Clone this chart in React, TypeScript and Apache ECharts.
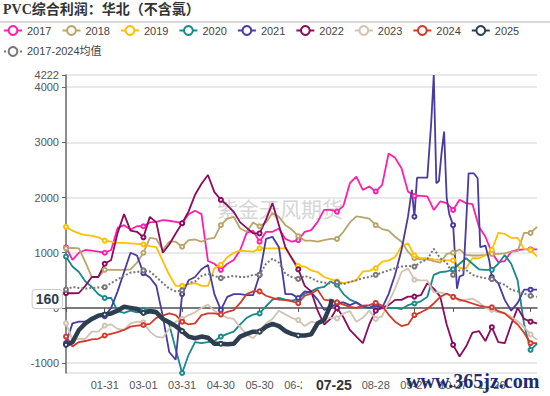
import React, { useEffect, useRef } from "react";
import * as echarts from "echarts";

// ---------- categories (leap-year calendar, MM-DD) ----------
const monthDays = [31, 29, 31, 30, 31, 30, 31, 31, 30, 31, 30, 31];
const categories: string[] = [];
monthDays.forEach((n, m) => {
  for (let d = 1; d <= n; d++) {
    categories.push(String(m + 1).padStart(2, "0") + "-" + String(d).padStart(2, "0"));
  }
});

// sample days (category index) used by most series
const days = [
  0, 5, 10, 15, 20, 25, 30, 35, 40, 45, 50, 55, 60, 65, 70, 75, 80, 85, 90, 95,
  100, 105, 110, 115, 120, 125, 130, 135, 140, 145, 150, 155, 160, 165, 170, 175, 180, 185, 190, 195,
  200, 205, 210, 215, 220, 225, 230, 235, 240, 245, 250, 255, 260, 265, 270, 275, 280, 285, 290, 295,
  300, 305, 310, 315, 320, 325, 330, 335, 340, 345, 350, 355, 360, 365,
];

const days2021 = [
  0, 5, 10, 15, 20, 25, 30, 35, 40, 45, 50, 55, 60, 65, 70, 75, 80, 85, 90, 95,
  100, 105, 110, 115, 120, 125, 130, 135, 140, 145, 150, 155, 160, 165, 170, 175, 180, 185, 190, 195,
  200, 205, 210, 215, 220, 225, 230, 235, 240, 245, 250, 255, 260, 265, 268, 270, 272, 280, 283, 285,
  287, 289, 291, 293, 295, 297, 300, 303, 305, 308, 310, 312, 316, 319, 321, 325, 328, 330, 335, 340,
  345, 350, 355, 360, 365,
];

const days2025 = [
  0, 5, 10, 15, 20, 25, 30, 35, 40, 45, 50, 55, 60, 65, 70, 75, 80, 85, 90, 95,
  100, 105, 110, 115, 120, 125, 130, 135, 140, 145, 150, 155, 160, 165, 170, 175, 180, 185, 190, 195,
  200, 205, 206,
];

const v2017 = [
  1100, 870, 1000, 1050, 1040, 1020, 1000, 1050, 1450, 1500,
  1420, 1480, 1480, 1550, 1560, 1590, 1580, 1560, 1535, 1700,
  1760, 1700, 850, 800, 690, 800, 870, 1050, 1360, 1400,
  1200, 1380, 1380, 1440, 1250, 1200, 1230, 1380, 1410, 1560,
  1776, 1776, 1745, 1850, 2260, 2380, 2140, 2200, 2110, 2230,
  2800, 2720, 2530, 2110, 2030, 2030, 2020, 1776, 1930, 1900,
  1776, 1960, 1900, 1880, 1470, 1290, 1000, 830, 850, 1020,
  1050, 1060, 1060, 1060,
];

const v2018 = [
  1080, 1090, 1080, 830, 560, 560, 690, 690, 690, 690,
  700, 820, 1000, 1270, 1250, 1050, 1200, 1200, 1110, 1230,
  1240, 1200, 1250, 1270, 1500, 1620, 1650, 1440, 1380, 1550,
  1480, 1550, 1720, 1650, 1500, 1420, 1300, 1220, 1220, 1200,
  1230, 1250, 1250, 1380, 1550, 1660, 1640, 1620, 1500, 1430,
  1400, 1290, 1200, 1020, 900, 880, 880, 850, 820, 980,
  1000, 1060, 960, 950, 950, 960, 980, 980, 990, 1020,
  1030, 1360, 1360, 1470,
];

const v2019 = [
  1470, 1400, 1350, 1320, 1310, 1280, 1220, 1200, 1180, 1180,
  1170, 1160, 1150, 1120, 1100, 850, 600, 400, 400, 430,
  450, 400, 400, 720, 780, 920, 1000, 1040, 1030, 1020,
  1080, 1080, 1080, 1080, 1080, 900, 760, 750, 680, 650,
  560, 520, 480, 450, 470, 500, 660, 670, 720, 840,
  860, 920, 1120, 1170, 950, 900, 900, 880, 870, 860,
  860, 720, 720, 900, 900, 950, 1050, 1360, 1340, 1270,
  1270, 1070, 1050, 930,
];

const v2020 = [
  930, 750, 650, 480, 380, 250, 180, 180, -60, -90,
  -50, -80, -40, -30, -50, -200, -300, -750, -1180, -850,
  -620, -640, -620, -600, -520, -470, -430, -300, -180, -120,
  -100, 30, 150, 180, 150, 130, 160, 260, 300, 360,
  380, 480, 420, 250, 150, 100, 20, 0, 0, -10,
  0, 0, -20, 50, 80, 120, 200, 600, 650, 660,
  700, 800, 900, 800, 700, 690, 690, 800, 960, 800,
  500, -300, -760, -650,
];

const v2021 = [
  -640, -280, -250, -250, -200, -150, -150, 0, 300, 650,
  1000, 950, 630, 550, 400, -150, -800, -940, 250, 500,
  560, 700, 780, 250, -36, 200, 250, 250, 230, 230,
  600, 1250, 1290, 1100, 250, 250, 180, 300, 280, 150,
  -36, 0, 90, 100, 50, 100, 30, 0, 60, 0,
  250, 600, 1050, 1650, 2140, 1655, 2360, 2360, 3350, 4222,
  2260, 2300, 2800, 3195, 2000, 1700, 1500, 350, 570, 600,
  1500, 2440, 2440, 2350, 1100, 1130, 860, 560, 450, 145,
  -50, 90, 330, 330, 330,
];

const v2022 = [
  266, 266, 270, 400, 560, 560, 800, 870, 1360, 1700,
  1400, 1380, 1280, 1650, 1550, 1000, 1150, 1350, 1535, 1750,
  2050, 2250, 2410, 2100, 1960, 1860, 1740, 1550, 1450, 1350,
  1350, 1600, 1900, 1500, 1100, 900, 700, 400, 300, -50,
  -300, -200, 0, -170, -400, -520, -640, -300, -50, 0,
  50, 145, 145, 205, 205, 230, 450, 350, 205, -300,
  -670, -880, -700, -450, -420, -600, -350, -620, -640, -300,
  0, -200, -250, -280,
];

const v2023 = [
  -280, -580, -560, -560, -430, -430, -320, -300, -380, -400,
  -280, -250, -260, -430, -520, -540, -380, -250, -200, -130,
  -80, 0, 60, -50, -120, -180, -200, -350, -480, -550,
  -430, -280, -200, -50, -120, -180, -220, -330, -250, -280,
  -200, -180, -190, -100, -60, -250, -180, -50, -200, -150,
  100, 350, 650, 720, 510, 500, 500, 280, 280, 250,
  200, 120, 150, 170, 100, 0, -36, -80, -100, -160,
  -240, -350, -480, -580,
];

const v2024 = [
  -520, -700, -620, -600, -570, -560, -500, -470, -440, -400,
  -340, -320, -310, -290, -180, -140, -100, -130, -250, -300,
  -280, -130, -100, -100, -120, -70, -40, 90, 250, 300,
  300, 220, 180, 150, 140, 120, 85, 220, 260, 330,
  150, 130, 100, 60, 20, 0, 40, 50, 90, 40,
  -120, -250, -330, -300, -130, -80, -20, 80, 200, 260,
  200, 150, 120, 80, 40, 20, 10, -60, -100, -200,
  -300, -450, -640, -640,
];

const v2025 = [
  -670, -620, -400, -280, -200, -140, -120, -100, -50, 20,
  0, -20, -90, -60, -80, -200, -260, -330, -420, -520,
  -550, -520, -540, -650, -650, -660, -650, -520, -470, -430,
  -430, -340, -290, -330, -420, -470, -500, -500, -480, -280,
  -220, 50, 160,
];

const vAvg = [
  330, 380, 360, 350, 360, 370, 375, 450, 520, 580,
  640, 650, 680, 660, 560, 450, 350, 300, 320, 450,
  480, 580, 620, 580, 540, 560, 580, 560, 560, 600,
  600, 800, 890, 820, 620, 560, 525, 580, 540, 480,
  460, 440, 465, 430, 470, 500, 540, 560, 600, 640,
  680, 720, 750, 760, 750, 830, 880, 1070, 900, 820,
  600, 680, 690, 600, 560, 540, 520, 460, 420, 330,
  300, 260, 220, 200,
];

const latestDay = 206; // 07-25
const latestValue = 160;

const seriesDefs = [
  { name: "2017", color: "#ff1fa8", d: days, v: v2017, width: 1.8 },
  { name: "2018", color: "#b8a56a", d: days, v: v2018, width: 1.8 },
  { name: "2019", color: "#ffc000", d: days, v: v2019, width: 1.8 },
  { name: "2020", color: "#178a8a", d: days, v: v2020, width: 1.8 },
  { name: "2021", color: "#4a3aa2", d: days2021, v: v2021, width: 1.8 },
  { name: "2022", color: "#8a0c5c", d: days, v: v2022, width: 1.8 },
  { name: "2023", color: "#d2c3b3", d: days, v: v2023, width: 1.8 },
  { name: "2024", color: "#d23a2c", d: days, v: v2024, width: 1.8 },
  { name: "2025", color: "#2c3e50", d: days2025, v: v2025, width: 4.5 },
  { name: "2017-2024均值", color: "#777777", d: days, v: vAvg, width: 2, dotted: true },
];

const FONT = '"Liberation Sans", Arial, "Noto Sans CJK SC", sans-serif';

export default function App() {
  const ref = useRef<HTMLDivElement>(null);

  useEffect(() => {
    document.body.style.margin = "0";
    if (!ref.current) return;
    const chart = echarts.init(ref.current, undefined, { renderer: "svg" });

    const series = seriesDefs.map((s) => ({
      type: "line",
      name: s.name,
      xAxisIndex: 0,
      yAxisIndex: 0,
      data: s.d.map((day, k) => ({
        value: [day, s.v[k]],
        symbol: day % 30 === 0 ? "emptyCircle" : "none",
      })),
      symbol: "emptyCircle",
      symbolSize: 4,
      showAllSymbol: true,
      lineStyle: { color: s.color, width: s.width, type: s.dotted ? "dotted" : "solid" },
      itemStyle: { color: s.color, borderWidth: 1.2 },
      emphasis: { disabled: true },
    }));

    // labels every 30 days; 07-29 sits under the 07-25 pointer label
    const labelInterval = (i: number) => i > 0 && i % 30 === 0 && i <= 330 && i !== 210;

    chart.setOption({
      animation: false,
      textStyle: { fontFamily: FONT },
      title: {
        text: "PVC综合利润：华北（不含氯）",
        left: 3,
        top: 2,
        padding: 0,
        textStyle: {
          fontSize: 14,
          fontWeight: "bold",
          color: "#333",
          fontFamily: '"Liberation Serif", "Noto Sans CJK SC", serif',
        },
      },
      legend: {
        left: 3,
        top: 25,
        width: 545,
        itemWidth: 18,
        itemHeight: 11,
        itemGap: 10,
        padding: 0,
        textStyle: { fontSize: 11, color: "#444", fontFamily: FONT },
        data: seriesDefs.map((s) => s.name),
      },
      grid: { left: 66, right: 13, top: 75, bottom: 23, containLabel: false },
      axisPointer: { triggerOn: "none" },
      xAxis: [
        {
          type: "category",
          data: categories,
          boundaryGap: false,
          axisLine: { show: false, onZero: false },
          axisTick: { show: false },
          splitLine: { show: false },
          axisLabel: { interval: labelInterval, color: "#555", fontSize: 11, margin: 6, fontFamily: FONT },
          axisPointer: {
            show: true,
            type: "line",
            value: latestDay,
            status: "show",
            snap: false,
            triggerTooltip: false,
            lineStyle: { opacity: 0, width: 0 },
            label: {
              show: true,
              fontWeight: "bold",
              fontSize: 14,
              color: "#333",
              backgroundColor: "#fff",
              padding: [2, 10, 2, 14],
              margin: 3,
              fontFamily: FONT,
            },
          },
        },
        {
          type: "category",
          data: categories,
          boundaryGap: false,
          position: "bottom",
          axisLine: { show: true, onZero: true, lineStyle: { color: "#555", width: 1.5 } },
          axisTick: { show: true, interval: (i: number) => i % 30 === 0, length: 4, lineStyle: { color: "#555" } },
          axisLabel: { show: false },
          splitLine: { show: false },
        },
      ],
      yAxis: {
        type: "value",
        min: -1180,
        max: 4222,
        axisLine: { show: true, lineStyle: { color: "#666", width: 1.5 } },
        axisTick: { show: true, length: 4, lineStyle: { color: "#666" } },
        splitLine: { lineStyle: { color: "#e2e2e2", width: 1.5 } },
        axisLabel: {
          color: "#555",
          fontSize: 11,
          margin: 7,
          showMinLabel: false,
          showMaxLabel: true,
          fontFamily: FONT,
          formatter: (v: number) => String(v),
        },
        axisPointer: {
          show: true,
          value: latestValue,
          status: "show",
          snap: false,
          triggerTooltip: false,
          lineStyle: { opacity: 0, width: 0 },
          label: {
            show: true,
            fontWeight: "bold",
            fontSize: 14,
            color: "#2c3e50",
            backgroundColor: "#fff",
            borderColor: "#ccc",
            borderWidth: 1,
            borderRadius: 3,
            padding: [2, 3, 2, 3],
            margin: 4,
            fontFamily: FONT,
            formatter: (p: any) => String(Math.round(Number(p.value))),
          },
        },
      },
      graphic: [
        {
          type: "line",
          shape: { x1: 0, y1: 22, x2: 550, y2: 22 },
          style: { stroke: "#cccccc", lineWidth: 1.5 },
          silent: true,
        },
        {
          type: "text",
          x: 217,
          y: 197,
          z: 0,
          silent: true,
          style: {
            text: "紫金天风期货",
            fontSize: 21,
            fill: "#d6d6d6",
            fontFamily: '"Noto Sans CJK SC", sans-serif',
          },
        },
        {
          type: "text",
          x: 406,
          y: 371,
          z: 100,
          silent: true,
          style: {
            text: "www.365jz.com",
            fontSize: 20,
            fontWeight: "bold",
            fill: "#1c2c6e",
            fontFamily: '"Liberation Serif", serif',
          },
        },
      ],
      series,
    });

    return () => chart.dispose();
  }, []);

  return <div ref={ref} style={{ width: 550, height: 396 }} />;
}
